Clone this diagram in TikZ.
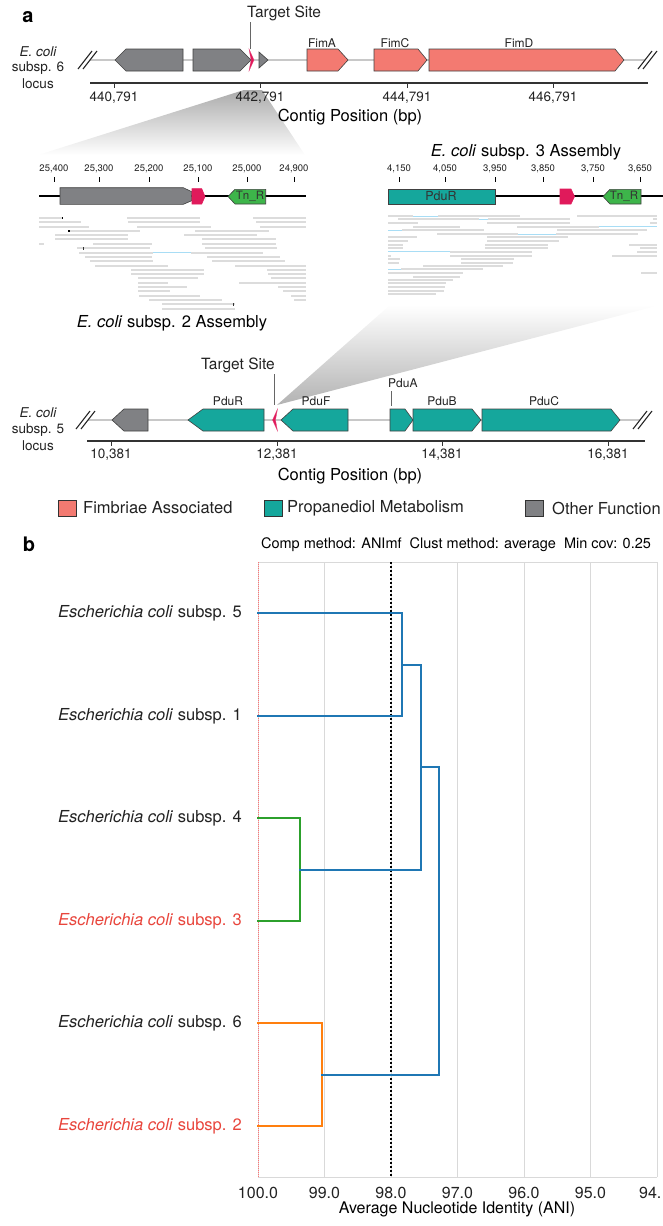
\documentclass[tikz,border=0pt]{standalone}
\usepackage{fontspec}
\setmainfont{TeX Gyre Heros}
\newcommand\fsz[1]{\fontsize{#1}{#1}\selectfont}
\definecolor{fim}{HTML}{F37A71}
\definecolor{pdu}{HTML}{15A79C}
\definecolor{oth}{HTML}{808184}
\definecolor{tgt}{HTML}{E01A5B}
\definecolor{tnr}{HTML}{3DB54A}
\definecolor{bb}{HTML}{C8C8C8}
\definecolor{rd}{HTML}{DCDCDC}
\definecolor{rdb}{HTML}{A8DDF5}
\definecolor{tblue}{HTML}{1F77B4}
\definecolor{tgreen}{HTML}{2CA02C}
\definecolor{torange}{HTML}{FF7F0E}
\definecolor{gridc}{HTML}{D9D9D9}
\definecolor{redlab}{HTML}{E8453C}
\definecolor{txt}{HTML}{222222}
\newcommand\gfwd[5]{\filldraw[gene,fill=#5] (#1,#4-11) -- ({#2-#3},#4-11) -- (#2,#4) -- ({#2-#3},#4+11) -- (#1,#4+11) -- cycle;}
\newcommand\grev[5]{\filldraw[gene,fill=#5] (#2,#4-11) -- ({#1+#3},#4-11) -- (#1,#4) -- ({#1+#3},#4+11) -- (#2,#4+11) -- cycle;}
\newcommand\dslash[2]{\draw[slash] ({#1-10},#2+9) -- ({#1+4},#2-9); \draw[slash] ({#1-5},#2+9) -- ({#1+9},#2-9);}
\begin{document}
\begin{tikzpicture}[x=1pt,y=-1pt,
  gene/.style={draw=black!75,line width=0.6pt,line join=miter},
  slash/.style={draw=black!85,line width=1.1pt},
  backbone/.style={draw=bb,line width=2.6pt},
  axisline/.style={draw=black!80,line width=1.1pt},
  ticklab/.style={font=\fsz{13.5},text=txt},
  smalltick/.style={font=\fsz{9.5},text=txt},
  genelab/.style={font=\fsz{12},text=txt},
  sidelab/.style={font=\fsz{13.5},text=txt,align=center},
  axtitle/.style={font=\fsz{16.5},text=black},
  asmtitle/.style={font=\fsz{16.5},text=black},
  leglab/.style={font=\fsz{16.5},text=txt,anchor=west,inner sep=0pt},
  legbox/.style={draw=black!80,line width=0.7pt},
  leaf/.style={font=\fsz{16.5},text=txt,anchor=east,inner sep=0pt},
  redleaf/.style={font=\fsz{16.5},text=redlab,anchor=east,inner sep=0pt},
  panel/.style={font=\bfseries\fsz{20}},
  tree/.style={line width=2pt,line cap=rect},
  gridl/.style={draw=gridc,line width=1pt},
  pointer/.style={draw=black!60,line width=0.8pt}]
\useasboundingbox (0,0) rectangle (663,1226);

% ---------- zoom cones ----------
\shade[top color=black!33, bottom color=white] (244,90) -- (262,90) -- (305,155) -- (38,155) -- cycle;
\shade[top color=white, bottom color=black!30] (277,405) -- (390,305) -- (660,305) -- cycle;

% ---------- panel a, top locus ----------
\node[panel] (pa) at (28,17) {a};
\node[sidelab] (s6a) at (38,52) {\itshape E. coli};
\node[sidelab] (s6b) at (38,68) {subsp. 6};
\node[sidelab] (s6c) at (38,84) {locus};
\draw[backbone] (90,60) -- (645,60);
\dslash{88}{60}
\dslash{648}{60}
\grev{115}{183}{11}{60}{oth}
\gfwd{193}{251}{11}{60}{oth}
\filldraw[fill=tgt,draw=tgt!80,line width=0.3pt] (249,49) -- (254,60) -- (249,71) -- (251,60) -- cycle;
\filldraw[gene,fill=oth] (259,52) -- (268,60) -- (259,68) -- cycle;
\gfwd{307}{348}{10}{60}{fim}
\gfwd{374}{427}{9}{60}{fim}
\gfwd{429}{624}{9}{60}{fim}
\node[genelab] (fima) at (322,43) {FimA};
\node[genelab] (fimc) at (395,43) {FimC};
\node[genelab] (fimd) at (519,43) {FimD};
\node[font=\fsz{15.5},text=txt,anchor=west,inner sep=0pt] (ts1) at (247,13) {Target Site};
\coordinate (ts1p) at (250,49);
\draw[pointer] (250,22) -- (ts1p);
\draw[axisline] (90,83) -- (648,83);
\foreach \x/\t in {114/{440,791},260/{442,791},407/{444,791},553/{446,791}}{
  \draw[axisline,line width=0.9pt] (\x,83) -- (\x,88);
  \node[ticklab] at (\x,98) {\t};
}
\node[axtitle] (cp1) at (350,117) {Contig Position (bp)};

% ---------- left inset ----------
\foreach \x/\t in {54/{25,400},99/{25,300},149/{25,200},198/{25,100},247/{25,000},294/{24,900}}{
  \draw[black,line width=0.8pt] (\x,177) -- (\x,182);
  \node[smalltick] at (\x,169) {\t};
}
\draw[black,line width=1.3pt] (39,196) -- (306,196);
\filldraw[gene,fill=oth] (60,187.7) -- (183.3,187.7) -- (191.7,191.7) -- (191.7,200.7) -- (183.3,204.3) -- (60,204.3) -- cycle;
\filldraw[gene,fill=tgt,draw=tgt] (192,188.7) -- (201.7,188.7) -- (205,196.5) -- (201.7,204) -- (192,204) -- cycle;
\filldraw[gene,fill=tnr] (228,196.5) -- (235,189.3) -- (265.7,189.3) -- (265.7,204) -- (235,204) -- cycle;
\node[font=\fsz{11.5},text=black!80] (tnr1) at (250,196.5) {Tn\_R};
\foreach \y/\a/\b in {263/118/185,263/382/600,263/760/918,275/118/243,275/385/600,275/768/918,
290/118/267,290/412/632,290/780/918,302/205/420,302/585/807,315/165/383,315/552/772,
328/165/383,328/607/827,342/118/133,342/278/455,342/607/827,355/230/450,355/615/832,
368/238/460,368/573/790,381/255/455,381/620/840,394/270/460,394/636/855,407/285/503,407/706/918,
420/393/612,420/800/918,432/393/612,432/803/918,445/415/595,445/812/918,458/415/505,458/718/918,
471/415/560,471/833/918,484/415/510,484/850/918,497/418/600,497/873/918,510/447/667,510/882/918,
523/487/705,537/487/705}{
  \fill[rd] ({\a/3},{130+\y/3-1.1}) rectangle ({\b/3},{130+\y/3+1.1});
}
\draw[rdb,line width=0.5pt] ({460/3},{130+368/3}) -- ({573/3},{130+368/3});
\fill[black] (61.5,217) rectangle (63,219);
\fill[black] (68,230) rectangle (69.5,232);
\fill[black!80] (82.5,247) rectangle (83.3,250);
\fill[black!80] (232.5,303) rectangle (233.3,306);
\node[asmtitle] (asm2) at (172,323) {\textit{E. coli} subsp. 2 Assembly};

% ---------- right inset ----------
\node[asmtitle] (asm3) at (526,152) {\textit{E. coli} subsp. 3 Assembly};
\foreach \x/\t in {399/{4,150},445/{4,050},495/{3,950},543/{3,850},593/{3,750},640/{3,650}}{
  \draw[black,line width=0.8pt] (\x,177) -- (\x,182);
  \node[smalltick] at (\x,169) {\t};
}
\draw[black,line width=1.3pt] (388,196) -- (663,196);
\filldraw[gene,fill=pdu] (388,189) rectangle (495,204);
\node[font=\fsz{12.5},text=black!80] (pdur3) at (441,196.5) {PduR};
\filldraw[gene,fill=tgt,draw=tgt] (560,189) -- (571,189) -- (574.5,196.5) -- (571,204) -- (560,204) -- cycle;
\filldraw[gene,fill=tnr] (603,196.5) -- (610,189.3) -- (641,189.3) -- (641,204) -- (610,204) -- cycle;
\node[font=\fsz{11.5},text=black!80] (tnr2) at (624,196.5) {Tn\_R};
\foreach \y/\a/\b in {258/145/220,258/295/540,258/710/950,268/175/418,268/445/690,268/940/950,
280/145/235,280/440/690,280/930/950,290/220/360,290/530/778,300/185/432,300/650/922,
312/290/535,312/648/895,322/145/230,322/440/685,332/145/205,332/440/658,
345/145/188,345/435/625,345/868/950,355/145/188,355/435/625,355/900/950,
365/330/575,365/890/950,377/145/152,377/330/575,377/815/950,387/145/180,387/363/523,
398/145/178,398/362/520,408/250/490,418/183/430,430/145/368,430/903/950,440/218/360,
450/145/338,460/145/318,470/145/315,482/145/312,493/145/288}{
  \fill[rd] ({340+\a/3},{130+\y/3-1.1}) rectangle ({340+\b/3},{130+\y/3+1.1});
}
\foreach \y/\a/\b in {258/220/295,268/418/445,290/778/950,300/145/185,312/535/648,365/145/330,418/145/183}{
  \draw[rdb,line width=0.6pt] ({340+\a/3},{130+\y/3}) -- ({340+\b/3},{130+\y/3});
}

% ---------- bottom locus ----------
\node[sidelab] (s5a) at (38,413) {\itshape E. coli};
\node[sidelab] (s5b) at (38,430) {subsp. 5};
\node[sidelab] (s5c) at (38,446) {locus};
\draw[backbone] (88,420) -- (640,420);
\dslash{86}{420}
\dslash{643}{420}
\grev{112}{148}{12}{420}{oth}
\grev{188}{264}{15}{420}{pdu}
\filldraw[fill=tgt,draw=tgt!80,line width=0.3pt] (277.5,409) -- (272.5,420) -- (277.5,431) -- (275.5,420) -- cycle;
\grev{281}{348}{12}{420}{pdu}
\gfwd{390}{413}{8}{420}{pdu}
\gfwd{413}{481}{9}{420}{pdu}
\gfwd{482}{620}{9}{420}{pdu}
\node[genelab] (pdur) at (228,401) {PduR};
\node[genelab] (pduf) at (316,401) {PduF};
\node[genelab] (pdub) at (442,401) {PduB};
\node[genelab] (pduc) at (544,401) {PduC};
\node[genelab,anchor=west,inner sep=0pt] (pdua) at (388,383) {PduA};
\coordinate (pduap) at (391,406);
\draw[pointer] (391,391) -- (pduap);
\node[font=\fsz{15.5},text=txt,anchor=east,inner sep=0pt] (ts2) at (275,365) {Target Site};
\coordinate (ts2p) at (274,405);
\draw[pointer] (274,374) -- (ts2p);
\draw[axisline] (87,441) -- (645,441);
\foreach \x/\t in {111/{10,381},277/{12,381},442/{14,381},608/{16,381}}{
  \draw[axisline,line width=0.9pt] (\x,441) -- (\x,446);
  \node[ticklab] at (\x,455) {\t};
}
\node[axtitle] (cp2) at (350,476) {Contig Position (bp)};

% ---------- legend ----------
\filldraw[legbox,fill=fim] (58,500) rectangle (76,516);
\node[leglab] (lg1) at (83,508) {Fimbriae Associated};
\filldraw[legbox,fill=pdu] (264,500) rectangle (282,516);
\node[leglab] (lg2) at (287,508) {Propanediol Metabolism};
\filldraw[legbox,fill=oth] (525,500) rectangle (543,516);
\node[leglab] (lg3) at (552,508) {Other Function};

% ---------- panel b ----------
\node[panel] (pb) at (29,544) {b};
\node[font=\fsz{14.5},text=black] (hdr) at (456,545) {Comp method: ANImf\ \ Clust method: average\ \ Min cov: 0.25};
\foreach \k in {0,...,6}{
  \draw[gridl] ({258+66.5*\k},562) -- ({258+66.5*\k},1177);
}
\draw[gridl] (258,562) -- (657,562);
\draw[gridl] (258,1177) -- (657,1177);
\foreach \k/\t in {0/100.0,1/99.0,2/98.0,3/97.0,4/96.0,5/95.0}{
  \node[font=\fsz{16},text=txt] at ({258+66.5*\k},1193) {\t};
}
\node[font=\fsz{16},text=txt,anchor=west,inner sep=0pt] (t94) at (639,1193) {94.};
\node[font=\fsz{16},text=black] (anit) at (457,1209) {Average Nucleotide Identity (ANI)};
\draw[red!55,line width=0.8pt,dash pattern=on 1pt off 1pt] (258,562) -- (258,1177);
\draw[black,line width=2.2pt,dash pattern=on 1.6pt off 2.4pt] (391,562) -- (391,1177);

% leaves
\node[leaf] (e5) at (242,613) {\textit{Escherichia coli} subsp. 5};
\node[leaf] (e1) at (242,716) {\textit{Escherichia coli} subsp. 1};
\node[leaf] (e4) at (242,818) {\textit{Escherichia coli} subsp. 4};
\node[redleaf] (e3) at (242,921) {\textit{Escherichia coli} subsp. 3};
\node[leaf] (e6) at (242,1023) {\textit{Escherichia coli} subsp. 6};
\node[redleaf] (e2) at (242,1126) {\textit{Escherichia coli} subsp. 2};
\coordinate (l5) at (258,613);
\coordinate (l1) at (258,716);
\coordinate (l4) at (258,818);
\coordinate (l3) at (258,921);
\coordinate (l6) at (258,1023);
\coordinate (l2) at (258,1126);
\coordinate (m51) at (402,664.5);
\coordinate (m43) at (300,869.5);
\coordinate (m62) at (322,1074.5);
\coordinate (m5143) at (421,767);
\coordinate (mall) at (439,920);
\draw[tree,tgreen] (l4) -| (m43) |- (l3);
\draw[tree,torange] (l6) -| (m62) |- (l2);
\draw[tree,tblue] (l5) -| (m51) |- (l1);
\draw[tree,tblue] (m51) -| (m5143) |- (m43);
\draw[tree,tblue] (m5143) -| (mall) |- (m62);
\end{tikzpicture}
\end{document}
